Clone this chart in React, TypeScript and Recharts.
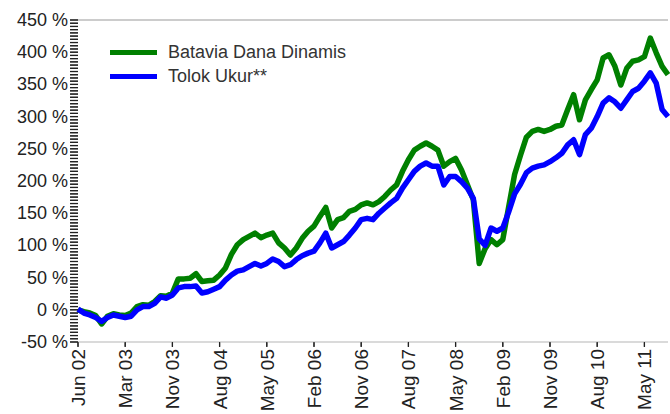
import React from 'react';
import { LineChart, Line, XAxis, YAxis, ReferenceLine } from 'recharts';

// x positions are sample indices; one label every 8 samples
const tickIdx = [0, 8, 16, 24, 32, 40, 48, 56, 64, 72, 80, 88, 96];
const tickLabels = ['Jun 02', 'Mar 03', 'Nov 03', 'Aug 04', 'May 05', 'Feb 06', 'Nov 06', 'Aug 07', 'May 08', 'Feb 09', 'Nov 09', 'Aug 10', 'May 11'];

const batavia = [
    0, -3, -5, -9, -22, -10, -6, -8, -9, -5,
    5, 8, 7, 13, 22, 21, 26, 48, 48, 49,
    56, 44, 45, 46, 54, 65, 86, 101, 109, 114,
    119, 112, 116, 119, 104, 96, 85, 96, 111, 122,
    130, 145, 159, 127, 140, 143, 153, 156, 163, 166,
    163, 168, 176, 186, 194, 215, 233, 248, 254, 259,
    254, 248, 223, 230, 235, 217, 194, 171, 72, 95,
    109, 101, 109, 160, 210, 240, 268, 277, 280, 277,
    280, 285, 287, 311, 334, 295, 326, 342, 357, 391,
    396, 378, 349, 375, 386, 388, 393, 422, 399, 378,
    365,
];
const tolokUkur = [
    1, -5, -8, -12, -18, -12, -8, -10, -12, -10,
    0, 5, 5, 10, 20, 18, 23, 34, 36, 36,
    37, 26, 28, 32, 36, 46, 54, 60, 62, 67,
    72, 68, 72, 79, 75, 67, 70, 78, 84, 88,
    91, 104, 119, 96, 101, 106, 116, 127, 140, 142,
    140, 150, 158, 166, 173, 189, 202, 215, 223, 228,
    223, 223, 194, 207, 207, 199, 189, 173, 110, 100,
    127, 122, 127, 152, 180, 195, 213, 220, 223, 225,
    230, 236, 243, 256, 264, 241, 272, 282, 300, 321,
    329, 323, 313, 326, 339, 344, 355, 368, 352, 311,
    300,
];

const yTicks: number[] = [];
for (let v = -50; v <= 450; v += 5) yTicks.push(v);

const data = batavia.map((b, i) => ({ i, batavia: b, tolok: tolokUkur[i] }));

const FONT = '"Liberation Sans", Arial, sans-serif';

const YTick = (props: any) => {
    const v = Number(props.payload.value);
    if (v % 50 !== 0) return <g />;
    return (
        <text x={Number(props.x) + 1} y={props.y} dy={6} textAnchor="end" fontSize={18} fontFamily={FONT} fill="#222">
            {v} %
        </text>
    );
};

const XTick = (props: any) => {
    const x = Number(props.x);
    const y = Number(props.y);
    const label = tickLabels[tickIdx.indexOf(props.payload.value)] ?? '';
    return (
        <text
            x={x}
            y={y}
            dy={7}
            textAnchor="end"
            transform={`rotate(-90, ${x}, ${y})`}
            fontSize={19}
            fontFamily={FONT}
            fill="#222"
        >
            {label}
        </text>
    );
};

const legendItems = [
    { c: '#008000', t: 'Batavia Dana Dinamis' },
    { c: '#0000ff', t: 'Tolok Ukur**' },
];

export default function App() {
    return (
        <div style={{ position: 'absolute', left: 0, top: 0, width: 670, height: 414, background: '#fff' }}>
            <LineChart width={670} height={414} data={data} margin={{ top: 20, right: 2, bottom: 0, left: 0 }}>
                <XAxis
                    dataKey="i"
                    type="number"
                    domain={[0, 100]}
                    ticks={tickIdx}
                    interval={0}
                    height={72}
                    tickSize={5}
                    tickMargin={2}
                    axisLine={{ stroke: '#b5b5b5' }}
                    tickLine={{ stroke: '#222' }}
                    tick={<XTick />}
                />
                <YAxis
                    type="number"
                    domain={[-50, 450]}
                    ticks={yTicks}
                    interval={0}
                    width={78}
                    tickSize={8}
                    tickMargin={3}
                    axisLine={false}
                    tickLine={{ stroke: '#222' }}
                    tick={<YTick />}
                />
                <ReferenceLine y={450} stroke="#bbbbbb" strokeWidth={1.5} />
                {/* dense y tick dashes, drawn in data space just left of the plot */}
                {yTicks.map((v) => (
                    <ReferenceLine
                        key={`yt${v}`}
                        segment={[{ x: -1.35, y: v }, { x: 0, y: v }]}
                        stroke="#222"
                        strokeWidth={1.3}
                        ifOverflow="visible"
                    />
                ))}
                {tickIdx.map((t) => (
                    <ReferenceLine
                        key={`xt${t}`}
                        segment={[{ x: t, y: -50 }, { x: t, y: -57.5 }]}
                        stroke="#222"
                        strokeWidth={1.3}
                        ifOverflow="visible"
                    />
                ))}
                <Line
                    type="linear"
                    dataKey="batavia"
                    stroke="#008000"
                    strokeWidth={5.5}
                    dot={false}
                    strokeLinejoin="round"
                    isAnimationActive={false}
                />
                <Line
                    type="linear"
                    dataKey="tolok"
                    stroke="#0000ff"
                    strokeWidth={5.5}
                    dot={false}
                    strokeLinejoin="round"
                    isAnimationActive={false}
                />
            </LineChart>
            <div style={{ position: 'absolute', left: 110, top: 40, fontFamily: FONT, fontSize: 18, color: '#333' }}>
                {legendItems.map((it) => (
                    <div key={it.t} style={{ display: 'flex', alignItems: 'center', height: 24 }}>
                        <div style={{ width: 47, height: 5, background: it.c, marginRight: 11 }} />
                        <span>{it.t}</span>
                    </div>
                ))}
            </div>
        </div>
    );
}
